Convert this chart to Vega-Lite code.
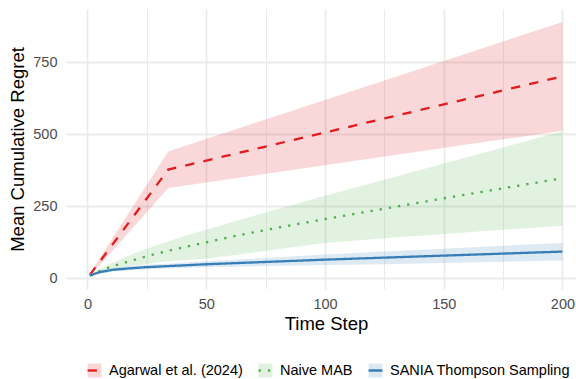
{
  "$schema": "https://vega.github.io/schema/vega-lite/v6.json",
  "width": 510,
  "height": 280,
  "autosize": {"type": "none"},
  "padding": {"left": 66, "top": 9, "right": 0, "bottom": 90},
  "background": "white",
  "config": {
    "font": "Liberation Sans",
    "view": {"stroke": null},
    "axis": {
      "domain": false,
      "ticks": false,
      "gridColor": "#EBEBEB",
      "labelFont": "Liberation Sans",
      "labelFontSize": 14.5,
      "labelColor": "#4D4D4D",
      "titleFont": "Liberation Sans",
      "titleFontSize": 18.5,
      "titleFontWeight": "normal",
      "titleColor": "#000000"
    },
    "legend": {
      "labelFont": "Liberation Sans",
      "labelFontSize": 14.5,
      "labelColor": "#000000",
      "labelLimit": 400,
      "orient": "none",
      "direction": "horizontal",
      "legendX": 20,
      "legendY": 353,
      "padding": 0,
      "symbolSize": 190,
      "symbolStrokeWidth": 2.3,
      "labelOffset": 6,
      "columnPadding": 11
    }
  },
  "data": {
    "values": [
      {"method": "Agarwal et al. (2024)", "t": 1, "mean": 11, "lo": 6, "hi": 16},
      {"method": "Agarwal et al. (2024)", "t": 34, "mean": 377, "lo": 313, "hi": 440},
      {"method": "Agarwal et al. (2024)", "t": 200, "mean": 701, "lo": 512, "hi": 890},
      {"method": "Naive MAB", "t": 1, "mean": 10, "lo": 8, "hi": 12},
      {"method": "Naive MAB", "t": 5, "mean": 24, "lo": 19, "hi": 30},
      {"method": "Naive MAB", "t": 10, "mean": 40, "lo": 29, "hi": 51},
      {"method": "Naive MAB", "t": 20, "mean": 64, "lo": 44, "hi": 87},
      {"method": "Naive MAB", "t": 30, "mean": 87, "lo": 55, "hi": 117},
      {"method": "Naive MAB", "t": 40, "mean": 106, "lo": 62, "hi": 144},
      {"method": "Naive MAB", "t": 50, "mean": 124, "lo": 68, "hi": 168},
      {"method": "Naive MAB", "t": 65, "mean": 151, "lo": 83, "hi": 204},
      {"method": "Naive MAB", "t": 80, "mean": 175, "lo": 100, "hi": 240},
      {"method": "Naive MAB", "t": 100, "mean": 205, "lo": 122, "hi": 286},
      {"method": "Naive MAB", "t": 125, "mean": 241, "lo": 138, "hi": 342},
      {"method": "Naive MAB", "t": 150, "mean": 277, "lo": 153, "hi": 398},
      {"method": "Naive MAB", "t": 175, "mean": 312, "lo": 168, "hi": 454},
      {"method": "Naive MAB", "t": 200, "mean": 347, "lo": 182, "hi": 510},
      {"method": "SANIA Thompson Sampling", "t": 1, "mean": 8, "lo": 6, "hi": 10},
      {"method": "SANIA Thompson Sampling", "t": 3, "mean": 15, "lo": 11, "hi": 19},
      {"method": "SANIA Thompson Sampling", "t": 6, "mean": 22, "lo": 17, "hi": 27},
      {"method": "SANIA Thompson Sampling", "t": 11, "mean": 29, "lo": 23, "hi": 35},
      {"method": "SANIA Thompson Sampling", "t": 18, "mean": 34, "lo": 27, "hi": 41},
      {"method": "SANIA Thompson Sampling", "t": 25, "mean": 38, "lo": 31, "hi": 46},
      {"method": "SANIA Thompson Sampling", "t": 35, "mean": 42, "lo": 34, "hi": 51},
      {"method": "SANIA Thompson Sampling", "t": 50, "mean": 48, "lo": 38, "hi": 58},
      {"method": "SANIA Thompson Sampling", "t": 75, "mean": 56, "lo": 42, "hi": 70},
      {"method": "SANIA Thompson Sampling", "t": 100, "mean": 64, "lo": 45, "hi": 82},
      {"method": "SANIA Thompson Sampling", "t": 125, "mean": 71, "lo": 48, "hi": 92},
      {"method": "SANIA Thompson Sampling", "t": 150, "mean": 78, "lo": 52, "hi": 102},
      {"method": "SANIA Thompson Sampling", "t": 175, "mean": 85, "lo": 57, "hi": 112},
      {"method": "SANIA Thompson Sampling", "t": 200, "mean": 92, "lo": 61, "hi": 122}
    ]
  },
  "encoding": {
    "x": {
      "field": "t",
      "type": "quantitative",
      "scale": {"domain": [-9.05, 205.7], "nice": false, "zero": false},
      "axis": {
        "title": "Time Step",
        "values": [0, 25, 50, 75, 100, 125, 150, 175, 200],
        "labelExpr": "datum.value % 50 === 0 ? datum.label : ''",
        "gridWidth": {"condition": {"test": "datum.value % 50 === 0", "value": 1.8}, "value": 1},
        "labelPadding": 8,
        "titlePadding": 4,
        "titleX": 260
      }
    }
  },
  "layer": [
    {
      "mark": {"type": "area", "opacity": 0.17},
      "encoding": {
        "y": {
          "field": "lo",
          "type": "quantitative",
          "scale": {"domain": [-38, 935], "nice": false, "zero": false},
          "axis": {
            "title": "Mean Cumulative Regret",
            "values": [0, 125, 250, 375, 500, 625, 750, 875],
            "labelExpr": "datum.value % 250 === 0 ? datum.label : ''",
            "gridWidth": {"condition": {"test": "datum.value % 250 === 0", "value": 1.8}, "value": 1},
            "labelPadding": 9,
            "titlePadding": 5
          }
        },
        "y2": {"field": "hi"},
        "fill": {
          "field": "method",
          "type": "nominal",
          "scale": {
            "domain": ["Agarwal et al. (2024)", "Naive MAB", "SANIA Thompson Sampling"],
            "range": ["#E41A1C", "#4DAF4A", "#377EB8"]
          },
          "legend": {
            "title": null,
            "symbolType": "square",
            "symbolStrokeColor": "transparent",
            "labelColor": "transparent"
          }
        }
      }
    },
    {
      "mark": {"type": "line", "strokeWidth": 2.3, "strokeCap": "butt"},
      "encoding": {
        "y": {"field": "mean", "type": "quantitative"},
        "stroke": {
          "field": "method",
          "type": "nominal",
          "scale": {"range": ["#E41A1C", "#4DAF4A", "#377EB8"]},
          "legend": {"title": null, "symbolType": "stroke"}
        },
        "strokeDash": {
          "field": "method",
          "type": "nominal",
          "scale": {"range": [[9.3, 9.3], [2.3, 7], [1, 0]]},
          "legend": {"title": null, "symbolType": "stroke"}
        }
      }
    }
  ]
}
